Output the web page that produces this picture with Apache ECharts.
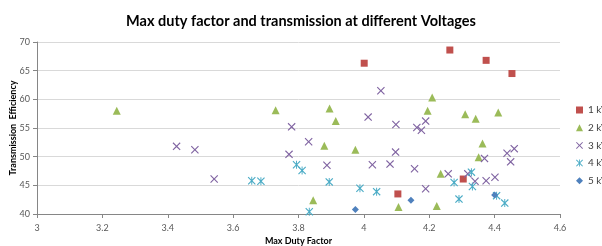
<!DOCTYPE html>
<html>
<head>
<meta charset="utf-8">
<script src="https://cdn.jsdelivr.net/npm/echarts@6/dist/echarts.min.js"></script>
<style>
  html, body { margin: 0; padding: 0; background: #fff; }
  #root { width: 602px; height: 246px; }
</style>
</head>
<body>
<div id="root"></div>
<script>
// values: [max duty factor, transmission efficiency]
var kv1 = [[4.001, 66.3], [4.104, 43.5], [4.263, 68.6], [4.304, 46.1], [4.374, 66.8], [4.453, 64.5]];
var kv2 = [[3.244, 58.0], [3.730, 58.1], [3.845, 42.4], [3.879, 51.9], [3.895, 58.4], [3.914, 56.2],
  [3.974, 51.2], [4.106, 41.2], [4.195, 58.0], [4.209, 60.3], [4.223, 41.4], [4.235, 47.0],
  [4.310, 57.4], [4.342, 56.6], [4.351, 49.9], [4.363, 52.3], [4.411, 57.7]];
var kv3 = [[3.427, 51.8], [3.483, 51.2], [3.542, 46.1], [3.771, 50.4], [3.779, 55.2], [3.831, 52.6],
  [3.887, 48.5], [4.013, 56.9], [4.026, 48.6], [4.052, 61.5], [4.080, 48.7], [4.098, 55.6],
  [4.097, 50.8], [4.155, 47.9], [4.162, 55.1], [4.176, 54.6], [4.189, 56.2], [4.189, 44.4],
  [4.258, 47.0], [4.318, 47.0], [4.340, 45.7], [4.369, 49.7], [4.374, 45.8], [4.401, 46.4],
  [4.438, 50.6], [4.449, 49.1], [4.460, 51.4]];
var kv4 = [[3.657, 45.8], [3.685, 45.7], [3.794, 48.6], [3.811, 47.6], [3.833, 40.4], [3.894, 45.6],
  [3.988, 44.5], [4.039, 43.9], [4.276, 45.5], [4.291, 42.6], [4.329, 47.3], [4.332, 44.8],
  [4.406, 43.2], [4.431, 41.9]];
var kv5 = [[3.974, 40.8], [4.144, 42.4], [4.400, 43.3]];

var seriesNames = ['1 kV', '2 kV', '3 kV', '4 kV', '5 kV'];
var seriesData = [kv1, kv2, kv3, kv4, kv5];
var colors = ['#C0504D', '#9BBB59', '#8064A2', '#4BACC6', '#4F81BD'];

var crossPath = 'M1,0L5,4L9,0L10,1L6,5L10,9L9,10L5,6L1,10L0,9L4,5L0,1Z';
var symbols = ['rect', 'triangle', 'path://' + crossPath,
  'path://' + crossPath + 'M4.4,0L5.6,0L5.6,10L4.4,10Z', 'diamond'];
var sizes = [7, 8, 8, 8, 7];

var font = 'Lato';
var chart = echarts.init(document.getElementById('root'), null, { renderer: 'canvas' });

var option = {
  animation: false,
  color: colors,
  title: {
    text: 'Max duty factor and transmission at different Voltages',
    left: 'center',
    top: 9,
    textStyle: { fontFamily: font, fontSize: 14.5, fontWeight: 'bold', color: '#000' }
  },
  legend: {
    orient: 'vertical',
    left: 576,
    top: 105,
    padding: 0,
    itemWidth: 7,
    itemHeight: 7,
    itemGap: 7.7,
    data: seriesNames,
    textStyle: { fontFamily: font, fontSize: 10, color: '#404040', width: 30, overflow: 'none' }
  },
  grid: { left: 37, right: 42, top: 42, bottom: 32, outerBoundsMode: 'none' },
  xAxis: {
    type: 'value',
    min: 3,
    max: 4.6,
    interval: 0.2,
    name: 'Max Duty Factor',
    nameLocation: 'middle',
    nameGap: 23,
    nameMoveOverlap: false,
    nameTextStyle: { fontFamily: font, fontSize: 9, fontWeight: 'bold', color: '#000' },
    axisLine: { show: true, lineStyle: { color: '#868686' } },
    axisTick: { show: true, length: 4, lineStyle: { color: '#868686' } },
    axisLabel: { fontFamily: font, fontSize: 9, color: '#595959', margin: 10 },
    splitLine: { show: false }
  },
  yAxis: {
    type: 'value',
    min: 40,
    max: 70,
    interval: 5,
    name: 'Transmission  Efficiency',
    nameLocation: 'middle',
    nameGap: 19,
    nameMoveOverlap: false,
    nameTextStyle: { fontFamily: font, fontSize: 9, fontWeight: 'bold', color: '#000' },
    axisLine: { show: true, lineStyle: { color: '#868686' } },
    axisTick: { show: true, length: 4, lineStyle: { color: '#868686' } },
    axisLabel: { fontFamily: font, fontSize: 9, color: '#595959', margin: 7 },
    splitLine: { show: true, lineStyle: { color: '#D9D9D9', width: 1 } }
  },
  series: seriesNames.map(function (name, i) {
    return {
      name: name,
      type: 'scatter',
      data: seriesData[i],
      symbol: symbols[i],
      symbolSize: sizes[i],
      itemStyle: { color: colors[i], opacity: 1 }
    };
  })
};

chart.setOption(option);
</script>
</body>
</html>
